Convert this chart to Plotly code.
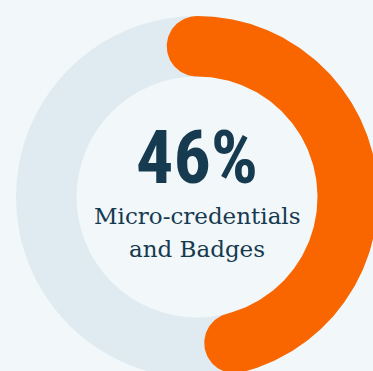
import numpy as np
import plotly.graph_objects as go

# ---- data ----
labels = ["Micro-credentials and Badges", "Other"]
values = [46, 54]
value_label = "46%"
subtitle_lines = ["Micro-credentials", "and Badges"]

# ---- styles / geometry (pixels relative to ring centre) ----
W, H = 373, 371
CX, CY = 197, 197
R_OUT, R_IN = 181, 120.5
BG = "#f2f7fa"
RING = "#dfebf1"
ORANGE = "#f96600"
TEXT = "#163a4f"

share = values[0] / sum(values)
r_mid = (R_OUT + R_IN) / 2
half = (R_OUT - R_IN) / 2

def pol(r, ang):
    # ang measured clockwise from 12 o'clock
    return r * np.sin(ang), r * np.cos(ang)

theta_end = 2 * np.pi * share
t = np.linspace(0, theta_end, 200)
ox, oy = pol(R_OUT, t)
ix, iy = pol(R_IN, t[::-1])
ca = np.linspace(0, np.pi, 60)
# end cap
ex0, ey0 = pol(r_mid, theta_end)
ux, uy = np.sin(theta_end), np.cos(theta_end)
tx, ty = np.cos(theta_end), -np.sin(theta_end)
ecx = ex0 + half * (ux * np.cos(ca) + tx * np.sin(ca))
ecy = ey0 + half * (uy * np.cos(ca) + ty * np.sin(ca))
# start cap
sx0, sy0 = pol(r_mid, 0)
scx = sx0 + half * (-np.sin(ca))
scy = sy0 + half * (-np.cos(ca))

px = np.concatenate([ox, ecx, ix, scx])
py = np.concatenate([oy, ecy, iy, scy])

fig = go.Figure()
fig.add_shape(type="circle", x0=-R_OUT, x1=R_OUT, y0=-R_OUT, y1=R_OUT,
              fillcolor=RING, line_width=0, layer="below")
fig.add_shape(type="circle", x0=-R_IN, x1=R_IN, y0=-R_IN, y1=R_IN,
              fillcolor=BG, line_width=0, layer="below")
fig.add_trace(go.Scatter(x=px, y=py, fill="toself", fillcolor=ORANGE,
                         mode="lines", line=dict(width=0, color=ORANGE),
                         hoverinfo="skip", name=labels[0]))

fig.add_annotation(x=0, y=CY - 157, text=f"<b>{value_label}</b>", showarrow=False,
                   font=dict(family="Roboto Condensed, Liberation Sans Narrow, DejaVu Sans Condensed, sans-serif",
                             size=74, color=TEXT), xanchor="center", yanchor="middle")
fig.add_annotation(x=0, y=CY - 216, text=subtitle_lines[0], showarrow=False,
                   font=dict(family="DejaVu Serif, serif", size=23, color=TEXT),
                   xanchor="center", yanchor="middle")
fig.add_annotation(x=0, y=CY - 249, text=subtitle_lines[1], showarrow=False,
                   font=dict(family="DejaVu Serif, serif", size=23, color=TEXT),
                   xanchor="center", yanchor="middle")

fig.update_layout(
    width=W, height=H, margin=dict(l=0, r=0, t=0, b=0),
    paper_bgcolor=BG, plot_bgcolor=BG, showlegend=False,
    xaxis=dict(range=[-CX, W - CX], visible=False, fixedrange=True),
    yaxis=dict(range=[CY - H, CY], visible=False, fixedrange=True),
)
fig.write_html("out.html", config={"displayModeBar": False})
